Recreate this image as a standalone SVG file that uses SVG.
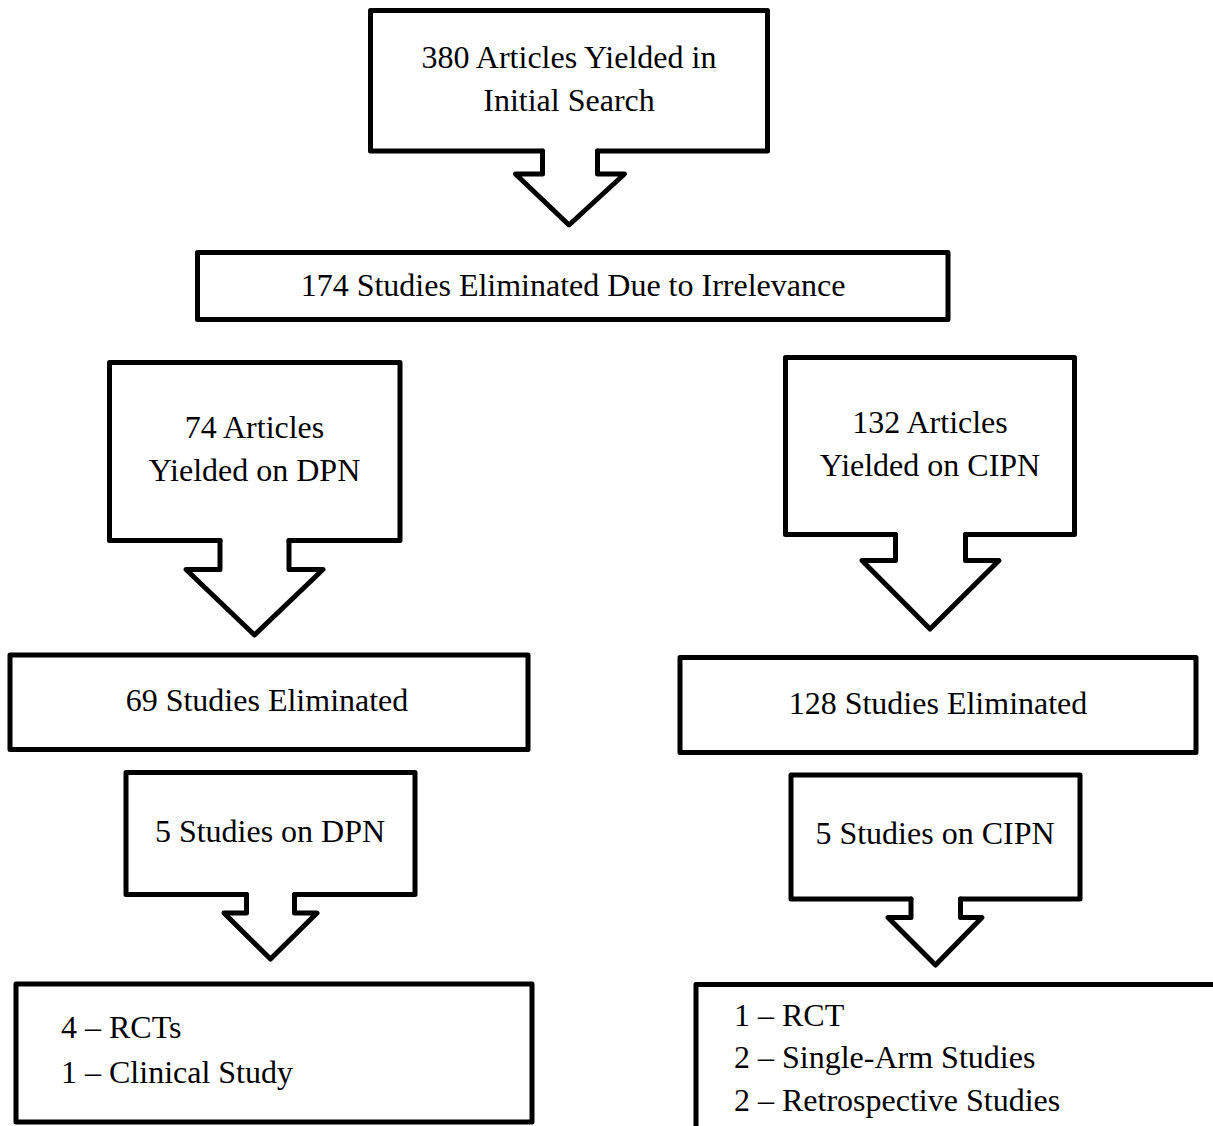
<svg xmlns="http://www.w3.org/2000/svg" width="1213" height="1126" viewBox="0 0 1213 1126">
<style>
.s{fill:none;stroke:#000;stroke-width:5;stroke-linejoin:round;stroke-linecap:round}
.b{fill:#fff;stroke:#000;stroke-width:5;stroke-linejoin:round}
.t{font-family:"Liberation Serif","Times New Roman",serif;font-size:32px;fill:#000}
.c{text-anchor:middle}
</style>
<rect width="1213" height="1126" fill="#fff"/>
<g id="n1">
<path class="s" d="M542.5,151 H370.5 V10.5 H767.5 V151 H597.5"/>
<text class="t c" x="569" y="68">380 Articles Yielded in</text>
<text class="t c" x="569" y="111">Initial Search</text>
</g>
<g id="n2">
<rect class="b" x="197.5" y="252.5" width="750.5" height="67"/>
<text class="t c" x="573" y="296">174 Studies Eliminated Due to Irrelevance</text>
</g>
<g id="n3">
<path class="s" d="M220,540.5 H109.5 V362.5 H400 V540.5 H289"/>
<text class="t c" x="254.5" y="438">74 Articles</text>
<text class="t c" x="254.5" y="481">Yielded on DPN</text>
</g>
<g id="n4">
<path class="s" d="M895.5,534.5 H785.5 V357.5 H1074.5 V534.5 H965.5"/>
<text class="t c" x="930" y="433">132 Articles</text>
<text class="t c" x="930" y="476">Yielded on CIPN</text>
</g>
<g id="n5">
<rect class="b" x="10" y="655" width="518" height="94.5"/>
<text class="t c" x="267" y="711">69 Studies Eliminated</text>
</g>
<g id="n6">
<rect class="b" x="680" y="657.5" width="516" height="95"/>
<text class="t c" x="938" y="714">128 Studies Eliminated</text>
</g>
<g id="n7">
<path class="s" d="M246.5,894.5 H126 V772.5 H415 V894.5 H294.5"/>
<text class="t c" x="270" y="842">5 Studies on DPN</text>
</g>
<g id="n8">
<path class="s" d="M911,899 H791 V775 H1080 V899 H960.5"/>
<text class="t c" x="935" y="844">5 Studies on CIPN</text>
</g>
<g id="n9">
<rect class="b" x="16" y="984" width="516" height="138"/>
<text class="t" x="61" y="1038">4 – RCTs</text>
<text class="t" x="61" y="1083">1 – Clinical Study</text>
</g>
<g id="n10">
<rect class="b" x="696" y="984.5" width="530" height="160"/>
<text class="t" x="734" y="1026">1 – RCT</text>
<text class="t" x="734" y="1068">2 – Single-Arm Studies</text>
<text class="t" x="734" y="1111">2 – Retrospective Studies</text>
</g>
<g id="connectors">
<path class="s" d="M542.5,151 V174 H515.5 L569,225 L624.5,174 H597.5 V151"/>
<path class="s" d="M220,540.5 V569.5 H186 L254.5,635 L323,569.5 H289 V540.5"/>
<path class="s" d="M895.5,534.5 V560.5 H862 L930,629 L999,560.5 H965.5 V534.5"/>
<path class="s" d="M246.5,894.5 V913 H224 L270.5,959 L317,913 H294.5 V894.5"/>
<path class="s" d="M911,899 V917.5 H888 L935.5,965 L982,917.5 H960.5 V899"/>
</g>
</svg>
